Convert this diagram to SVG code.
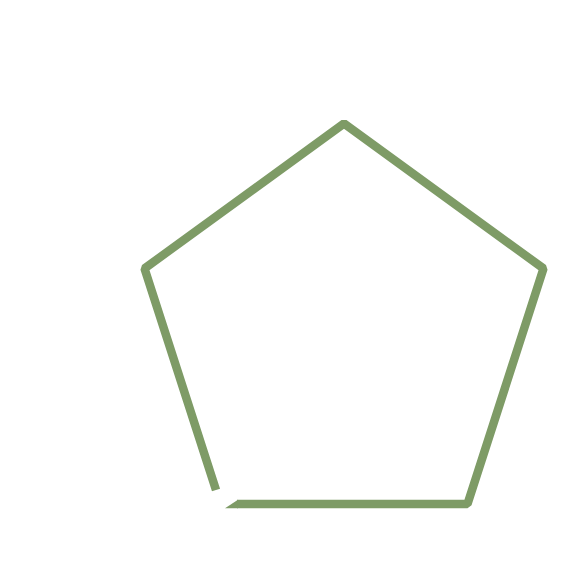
<svg xmlns="http://www.w3.org/2000/svg" width="581" height="581" viewBox="0 0 581 581">
  <style>
    .edge { fill: none; stroke: #7e9b66; stroke-width: 8.5; stroke-linejoin: bevel; stroke-linecap: butt; }
    .cap { fill: #7e9b66; stroke: none; }
  </style>
  <rect width="581" height="581" fill="#ffffff"/>
  <g id="pentagon">
    <path class="edge" d="M 237,504 L 467.5,504 L 543.5,268.5 L 344,123.5 L 144.5,268.5 L 216,490"/>
    <polygon class="cap" points="225,508.3 238,499.7 238,508.3"/>
  </g>
</svg>
